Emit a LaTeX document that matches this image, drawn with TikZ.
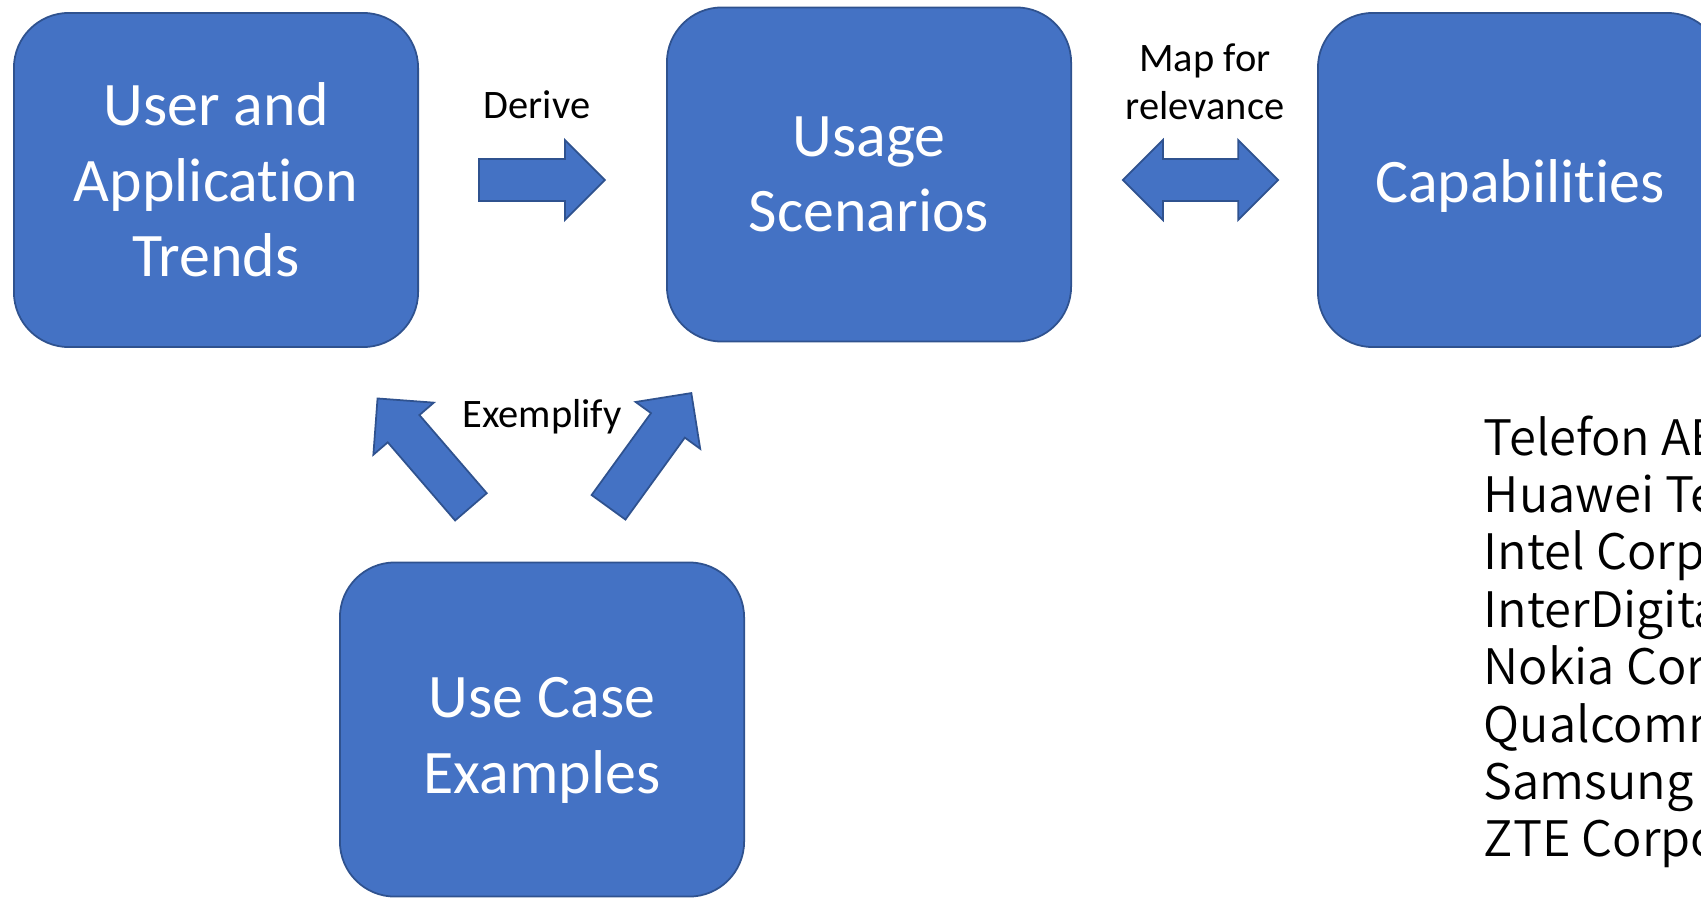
\documentclass[tikz,border=0pt]{standalone}
\usepackage{fontspec}
\setmainfont{Carlito}[Ligatures={NoCommon}]
\newfontfamily\listfont{Noto Sans CJK JP DemiLight}
\usepackage{xcolor}
\usetikzlibrary{shapes.arrows, positioning}
\definecolor{boxblue}{HTML}{4472C4}
\definecolor{edgeblue}{HTML}{2F528F}
\tikzset{
  block/.style  ={rectangle, rounded corners=0.55cm, draw=edgeblue, fill=boxblue,
                  line width=0.5pt, text=white, align=center,
                  minimum width=4.04cm, minimum height=3.34cm,
                  font=\fontsize{17.6}{21.5}\selectfont},
  lbl/.style    ={align=center, inner sep=0pt, font=\fontsize{11.5}{13.8}\selectfont},
  fat/.style    ={single arrow, draw=edgeblue, fill=boxblue, line width=0.5pt,
                  single arrow head extend=0.19cm, minimum width=0.78cm,
                  inner xsep=0pt, inner ysep=0.2cm, text height=0pt, text depth=0pt},
  fatboth/.style={double arrow, draw=edgeblue, fill=boxblue, line width=0.5pt,
                  double arrow head extend=0.19cm, minimum width=0.78cm,
                  inner xsep=0pt, inner ysep=0.2cm, text height=0pt, text depth=0pt},
  corp/.style   ={anchor=base west, inner sep=0pt,
                  font=\listfont\fontsize{13.9}{16.4}\selectfont},
}
\begin{document}
\begin{tikzpicture}[x=0.01cm, y=-0.01cm]

  \useasboundingbox (0,0) rectangle (1701,897);
  \clip (0,0) rectangle (1701,897);

  % ── Boxes ──────────────────────────────────────────────────────────
  \node[block] (trends)    at (216,180)   {User and\\Application\\Trends};
  \node[block] (scenarios) at (869,174.5) {Usage\\Scenarios};
  \node[block] (capab)     at (1520,180)  {\rule{0pt}{0.54cm}Capabilities};
  \node[block] (usecases)  at (542,729.5) {\rule{0pt}{0.62cm}Use Case\\Examples};

  % ── Block arrows ───────────────────────────────────────────────────
  \node[fat, minimum height=1.26cm, anchor=tail] (derive) at (478,180) {};
  \node[fatboth, minimum height=1.55cm] (mapping) at (1200.5,180) {};
  \node[fat, minimum height=1.43cm, anchor=tail, rotate=130.75] (exleft)  at (471.5,507.5) {};
  \node[fat, minimum height=1.41cm, anchor=tail, rotate=54.06]  (exright) at (608,508) {};

  % ── Arrow labels ───────────────────────────────────────────────────
  \node[lbl] (lderive) at (537,105)  {Derive};
  \node[lbl] (lmap)    at (1205,82)  {Map for\\relevance};
  \node[lbl] (lexempl) at (542,417)  {Exemplify};

  % ── Company list ───────────────────────────────────────────────────
  \foreach \name [count=\i from 0] in {Telefon AB, Huawei Tec, Intel Corpo,
      InterDigital, Nokia Corp, Qualcomm, Samsung, ZTE Corpo}
    \node[corp] (corp\i) at (1483,455+57.4*\i) {\name};

\end{tikzpicture}
\end{document}
